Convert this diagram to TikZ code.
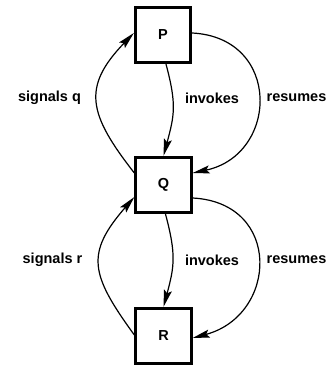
\documentclass[tikz,border=0pt]{standalone}
\usepackage{fontspec}
\setmainfont{Liberation Sans}
\usetikzlibrary{arrows.meta}
\begin{document}
\begin{tikzpicture}[x=1pt,y=1pt,
  proc/.style={draw, line width=2.8pt, minimum width=55.5pt, minimum height=55.5pt, inner sep=0pt, font=\fontsize{14.5}{18}\selectfont\bfseries},
  lbl/.style={font=\fontsize{14.5}{18}\selectfont\bfseries, inner sep=0pt},
  conn/.style={line width=1.2pt, -{Stealth[length=17pt,width=8pt,inset=3pt]}}]
\useasboundingbox (0,0) rectangle (328,369);
\node[proc] (P) at (163,334) {P};
\node[proc] (Q) at (163.5,184) {Q};
\node[proc] (R) at (163.5,33) {R};
% upper
\draw[conn] ([yshift=12pt]Q.west) .. controls +(128:75) and +(226:75) .. ([yshift=2pt]P.west);
\draw[conn] ([xshift=3pt]P.south) .. controls +(-75:42) and +(75:42) .. (Q.north);
\draw[conn] ([yshift=2pt]P.east) .. controls +(-3:90) and +(12:88) .. ([yshift=12pt]Q.east);
% lower
\draw[conn] ([yshift=1pt]R.west) .. controls +(126:75) and +(229:75) .. ([yshift=-12pt]Q.west);
\draw[conn] ([xshift=2pt]Q.south) .. controls +(-75:42) and +(75:42) .. (R.north);
\draw[conn] ([yshift=-13pt]Q.east) .. controls +(-3:90) and +(15:88) .. ([yshift=-2pt]R.east);
% labels
\node[lbl] (lsq) at (49.5,271) {signals q};
\node[lbl] (liq) at (212,271) {invokes};
\node[lbl] (lrq) at (296.5,271) {resumes};
\node[lbl] (lsr) at (52.5,109) {signals r};
\node[lbl] (lir) at (212,109) {invokes};
\node[lbl] (lrr) at (296.5,109) {resumes};
\end{tikzpicture}
\end{document}
